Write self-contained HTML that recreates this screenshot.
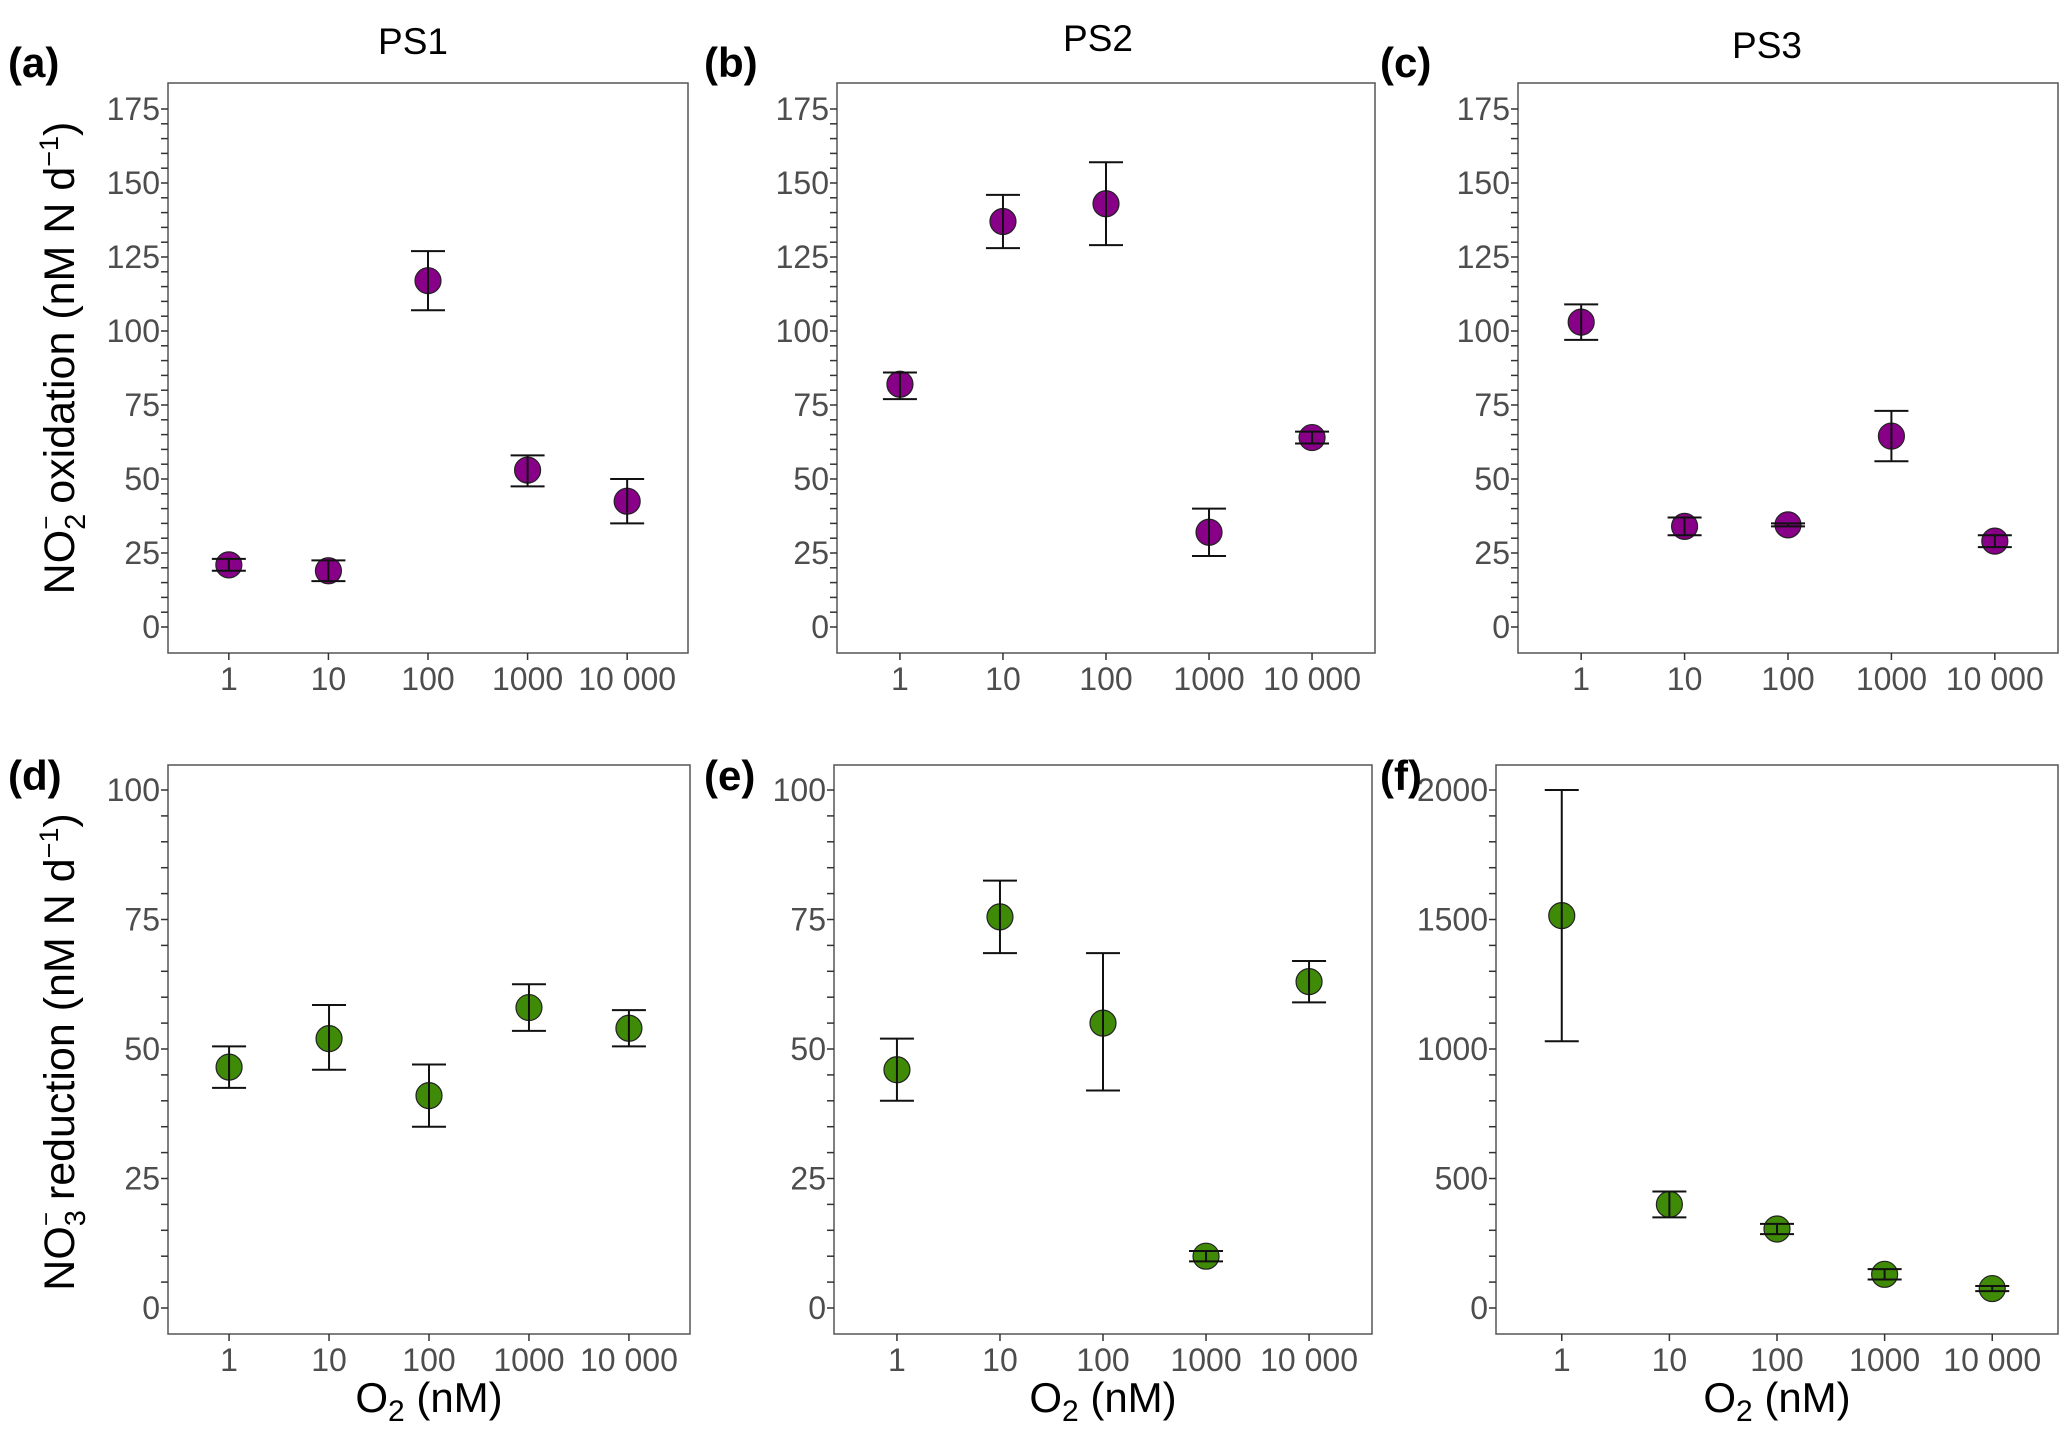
<!DOCTYPE html>
<html><head><meta charset="utf-8"><style>
html,body{margin:0;padding:0;background:#fff;}
svg{display:block;font-family:"Liberation Sans",Arial,sans-serif;}
</style></head><body>
<svg id="fig" width="2067" height="1440" viewBox="0 0 2067 1440"></svg>
<script>
const categories = ["1","10","100","1000","10 000"];
const aVals=[21,19,117,53,42.5], aLo=[19,15.5,107,47.5,35], aHi=[23,22.5,127,58,50];
const bVals=[82,137,143,32,64], bLo=[77,128,129,24,62], bHi=[86,146,157,40,66];
const cVals=[103,34,34.5,64.5,29], cLo=[97,31,34,56,27], cHi=[109,37,35,73,31];
const dVals=[46.5,52,41,58,54], dLo=[42.5,46,35,53.5,50.5], dHi=[50.5,58.5,47,62.5,57.5];
const eVals=[46,75.5,55,10,63], eLo=[40,68.5,42,9,59], eHi=[52,82.5,68.5,11,67];
const fVals=[1515,400,305,130,75], fLo=[1030,350,285,110,65], fHi=[2000,450,325,150,85];
const topTicks=[0,25,50,75,100,125,150,175];
const bottomTicks=[0,25,50,75,100];
const fTicks=[0,500,1000,1500,2000];

const NS="http://www.w3.org/2000/svg";
const svg=document.getElementById('fig');
function mk(tag,attrs,parent){const e=document.createElementNS(NS,tag);for(const k in attrs)e.setAttribute(k,attrs[k]);(parent||svg).appendChild(e);return e;}

const panels=[
 {id:'a',L:168,R:688,T:83,B:653,y0:627,yTop:109,vTop:175,ticks:topTicks,minor:5,vals:aVals,lo:aLo,hi:aHi,col:'#880088'},
 {id:'b',L:837,R:1375,T:83,B:653,y0:627,yTop:109,vTop:175,ticks:topTicks,minor:5,vals:bVals,lo:bLo,hi:bHi,col:'#880088'},
 {id:'c',L:1518,R:2058,T:83,B:653,y0:627,yTop:109,vTop:175,ticks:topTicks,minor:5,vals:cVals,lo:cLo,hi:cHi,col:'#880088'},
 {id:'d',L:168,R:690,T:765,B:1334,y0:1308,yTop:790,vTop:100,ticks:bottomTicks,minor:5,vals:dVals,lo:dLo,hi:dHi,col:'#3f8a06'},
 {id:'e',L:834,R:1372,T:765,B:1334,y0:1308,yTop:790,vTop:100,ticks:bottomTicks,minor:5,vals:eVals,lo:eLo,hi:eHi,col:'#3f8a06'},
 {id:'f',L:1496,R:2058,T:765,B:1334,y0:1308,yTop:790,vTop:2000,ticks:fTicks,minor:100,vals:fVals,lo:fLo,hi:fHi,col:'#3f8a06'}
];

panels.forEach(p=>{
  const g=mk('g',{});
  
  
  const w=p.R-p.L, pad=w*0.117, step=(w-2*pad)/4;
  const xs=i=>p.L+pad+i*step;
  const ys=v=>p.y0-(v/p.vTop)*(p.y0-p.yTop);
  const box=mk('rect',{x:p.L,y:p.T,width:w,height:p.B-p.T,fill:'none',stroke:'#555','stroke-width':1.5},g);
  
  
  const maxV=p.ticks[p.ticks.length-1];
  for(let v=0;v<=maxV+1e-9;v+=p.minor){
    mk('line',{x1:p.L-7,x2:p.L,y1:ys(v),y2:ys(v),stroke:'#333','stroke-width':1.5},g);
  }
  p.ticks.forEach(v=>{
    const t=mk('text',{x:p.L-8,y:ys(v)+11,'text-anchor':'end','font-size':32,fill:'#4d4d4d'},g);
    t.textContent=v;
    
    
  });
  categories.forEach((c,i)=>{
    mk('line',{x1:xs(i),x2:xs(i),y1:p.B,y2:p.B+7,stroke:'#333','stroke-width':1.5},g);
    const t=mk('text',{x:xs(i),y:p.B+37,'text-anchor':'middle','font-size':32,fill:'#4d4d4d'},g);
    t.textContent=c;
    
    
  });
  p.vals.forEach((v,i)=>{
    const x=xs(i);
    const pt=mk('circle',{cx:x,cy:ys(v),r:13,fill:p.col,stroke:'#222','stroke-width':1.2},g);
    
    
    const eb=mk('path',{d:`M${x-17},${ys(p.hi[i])}H${x+17}M${x},${ys(p.hi[i])}V${ys(p.lo[i])}M${x-17},${ys(p.lo[i])}H${x+17}`,stroke:'#111','stroke-width':2,fill:'none'},g);
    
    
  });
  const lab=mk('text',{x:0,y:0,'font-size':42,'font-weight':'bold',fill:'#000'},g);
  lab.setAttribute('x', p.id==='a'||p.id==='d'?8:(p.id==='b'||p.id==='e'?704:1380));
  lab.setAttribute('y', p.T<100?77:790);
  lab.textContent='('+p.id+')';
  
  
  if(p.T>100){
    const xt=mk('text',{x:(p.L+p.R)/2,y:1412,'text-anchor':'middle','font-size':42,fill:'#000'},g);
    xt.innerHTML='O<tspan font-size="30" dy="9">2</tspan><tspan dy="-9"> (nM)</tspan>';
    
    
  }
});
[['PS1',413,54],['PS2',1098,51],['PS3',1767,58]].forEach(([s,x,y])=>{
  const t=mk('text',{x:x,y:y,'text-anchor':'middle','font-size':37,fill:'#000'});
  t.textContent=s;
  
  
});
const y1=mk('text',{transform:'translate(74,358) rotate(-90)','text-anchor':'middle','font-size':43,fill:'#000'});
y1.innerHTML='NO<tspan font-size="29" dy="11">2</tspan><tspan font-size="24" dx="-16" dy="-31">−</tspan><tspan dy="20"> oxidation (nM N d</tspan><tspan font-size="27" dy="-16">−1</tspan><tspan dy="16">)</tspan>';


const y2=mk('text',{transform:'translate(74,1052) rotate(-90)','text-anchor':'middle','font-size':43,fill:'#000'});
y2.innerHTML='NO<tspan font-size="29" dy="11">3</tspan><tspan font-size="24" dx="-16" dy="-31">−</tspan><tspan dy="20"> reduction (nM N d</tspan><tspan font-size="27" dy="-16">−1</tspan><tspan dy="16">)</tspan>';


</script>
</body></html>
